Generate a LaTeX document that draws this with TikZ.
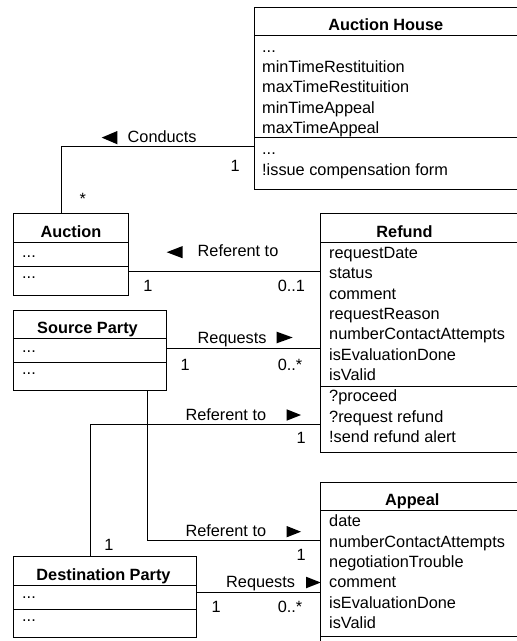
\documentclass[tikz,border=0pt]{standalone}
\usepackage{fontspec}
\setmainfont{Liberation Sans}
\tikzset{
  cls/.style={draw, line width=0.8pt, inner sep=0pt, outer sep=0pt, anchor=north west},
  title/.style={inner sep=0pt, anchor=base, font=\fontsize{16.3}{20.3}\selectfont\bfseries},
  list/.style={inner sep=0pt, anchor=north west, align=left},
  lbl/.style={inner sep=0pt, anchor=base west}
}
\begin{document}
\begin{tikzpicture}[x=1pt, y=-1pt, font=\fontsize{16.3}{20.3}\selectfont]
      \useasboundingbox (0,0) rectangle (517,641);
      \clip (0,0) rectangle (517,641);
      % classes
      \node[cls, minimum width=286pt, minimum height=28pt] (house-name) at (254,7.3) {};
      \node[cls, minimum width=286pt, minimum height=102pt] (house-attr) at (house-name.south west) {};
      \node[cls, minimum width=286pt, minimum height=51.7pt] (house-ops) at (house-attr.south west) {};
      \node[cls, minimum width=115pt, minimum height=29pt] (auction-name) at (13.3,213.3) {};
      \node[cls, minimum width=115pt, minimum height=23.7pt] (auction-attr) at (auction-name.south west) {};
      \node[cls, minimum width=115pt, minimum height=29.2pt] (auction-ops) at (auction-attr.south west) {};
      \node[cls, minimum width=220pt, minimum height=28.5pt] (refund-name) at (320.7,213.8) {};
      \node[cls, minimum width=220pt, minimum height=143.7pt] (refund-attr) at (refund-name.south west) {};
      \node[cls, minimum width=220pt, minimum height=66.7pt] (refund-ops) at (refund-attr.south west) {};
      \node[cls, minimum width=153.4pt, minimum height=28.3pt] (src-name) at (13.3,310) {};
      \node[cls, minimum width=153.4pt, minimum height=24pt] (src-attr) at (src-name.south west) {};
      \node[cls, minimum width=153.4pt, minimum height=28.4pt] (src-ops) at (src-attr.south west) {};
      \node[cls, minimum width=220pt, minimum height=27.7pt] (appeal-name) at (320.7,482.3) {};
      \node[cls, minimum width=220pt, minimum height=126pt] (appeal-attr) at (appeal-name.south west) {};
      \node[cls, minimum width=220pt, minimum height=64pt] (appeal-ops) at (appeal-attr.south west) {};
      \node[cls, minimum width=182.7pt, minimum height=29.2pt] (dst-name) at (13.3,556.5) {};
      \node[cls, minimum width=182.7pt, minimum height=23.6pt] (dst-attr) at (dst-name.south west) {};
      \node[cls, minimum width=182.7pt, minimum height=28.2pt] (dst-ops) at (dst-attr.south west) {};
      % class texts
      \node[title] (house-title) at (385.8,30.7) {Auction House};
      \node[list] (house-attr-text) at (262,37.8) {\strut...\\minTimeRestituition\\maxTimeRestituition\\minTimeAppeal\\maxTimeAppeal};
      \node[list] (house-ops-text) at (262,140.3) {\strut...\\!issue compensation form};
      \node[title] (auction-title) at (71,237.6) {Auction};
      \node[lbl] (auction-attr-text) at (22,257.5) {...};
      \node[lbl] (auction-ops-text) at (22,278.3) {...};
      \node[title] (refund-title) at (404.5,237.4) {Refund};
      \node[list] (refund-attr-text) at (329,244.1) {\strut requestDate\\status\\comment\\requestReason\\numberContactAttempts\\isEvaluationDone\\isValid};
      \node[list] (refund-ops-text) at (329,387.5) {\strut ?proceed\\?request refund\\!send refund alert};
      \node[title] (src-title) at (87.5,333.3) {Source Party};
      \node[lbl] (src-attr-text) at (22,352.5) {...};
      \node[lbl] (src-ops-text) at (22,374) {...};
      \node[title] (appeal-title) at (412.2,505) {Appeal};
      \node[list] (appeal-attr-text) at (329,512.5) {\strut date\\numberContactAttempts\\negotiationTrouble\\comment\\isEvaluationDone\\isValid};
      \node[title] (dst-title) at (103.5,580.7) {Destination Party};
      \node[lbl] (dst-attr-text) at (22,598.8) {...};
      \node[lbl] (dst-ops-text) at (22,621.5) {...};
      % associations
      \coordinate (conducts-bend) at (61.7,146);
      \coordinate (src-bend) at (147.7,540);
      \coordinate (dst-bend) at (90.3,424.7);
      \begin{scope}[line width=0.8pt]
        \draw (house-ops.west |- conducts-bend) -- (conducts-bend) -- (auction-name.north -| conducts-bend);
        \draw (auction-ops.east |- 0,271.3) -- (refund-attr.west |- 0,271.3);
        \draw (src-attr.east |- 0,348.3) -- (refund-attr.west |- 0,348.3);
        \draw (src-ops.south -| src-bend) |- (appeal-attr.west |- src-bend);
        \draw (dst-name.north -| dst-bend) |- (refund-ops.west |- dst-bend);
        \draw (dst-attr.east |- 0,592.3) -- (appeal-attr.west |- 0,592.3);
      \end{scope}
      % association names
      \node[lbl] (lbl-conducts) at (127.5,142.5) {Conducts};
      \node[lbl] (lbl-ref-auction) at (197.5,256.7) {Referent to};
      \node[lbl] (lbl-req-src) at (197.5,343.3) {Requests};
      \node[lbl] (lbl-ref-dst) at (185.3,420.7) {Referent to};
      \node[lbl] (lbl-ref-src) at (185.3,536.7) {Referent to};
      \node[lbl] (lbl-req-dst) at (226,587.7) {Requests};
      \fill (101.7,137.6) -- (117.3,131) -- (117.3,144.3) -- cycle;
      \fill (166.7,252.2) -- (182.7,246) -- (182.7,258.3) -- cycle;
      \fill (292.7,337.5) -- (276.7,331.7) -- (276.7,343.3) -- cycle;
      \fill (301,415) -- (286.7,409.3) -- (286.7,420.7) -- cycle;
      \fill (301,531.7) -- (286.7,526) -- (286.7,537.3) -- cycle;
      \fill (320.7,582.5) -- (306,576.7) -- (306,588.3) -- cycle;
      % multiplicities
      \node[lbl] (m-house) at (230.5,171.7) {1};
      \node[lbl] (m-auction-star) at (79.5,204.4) {*};
      \node[lbl] (m-auction-ref) at (143.2,291) {1};
      \node[lbl] (m-refund-auction) at (277.6,291) {0..1};
      \node[lbl] (m-src-req) at (180.5,370) {1};
      \node[lbl] (m-refund-src) at (277.6,370) {0..*};
      \node[lbl] (m-refund-dst) at (296.5,443.3) {1};
      \node[lbl] (m-appeal-src) at (296.5,560) {1};
      \node[lbl] (m-dst-ref) at (104.2,550) {1};
      \node[lbl] (m-dst-req) at (211.5,612.7) {1};
      \node[lbl] (m-appeal-dst) at (277.6,612.7) {0..*};
    \end{tikzpicture}
\end{document}
